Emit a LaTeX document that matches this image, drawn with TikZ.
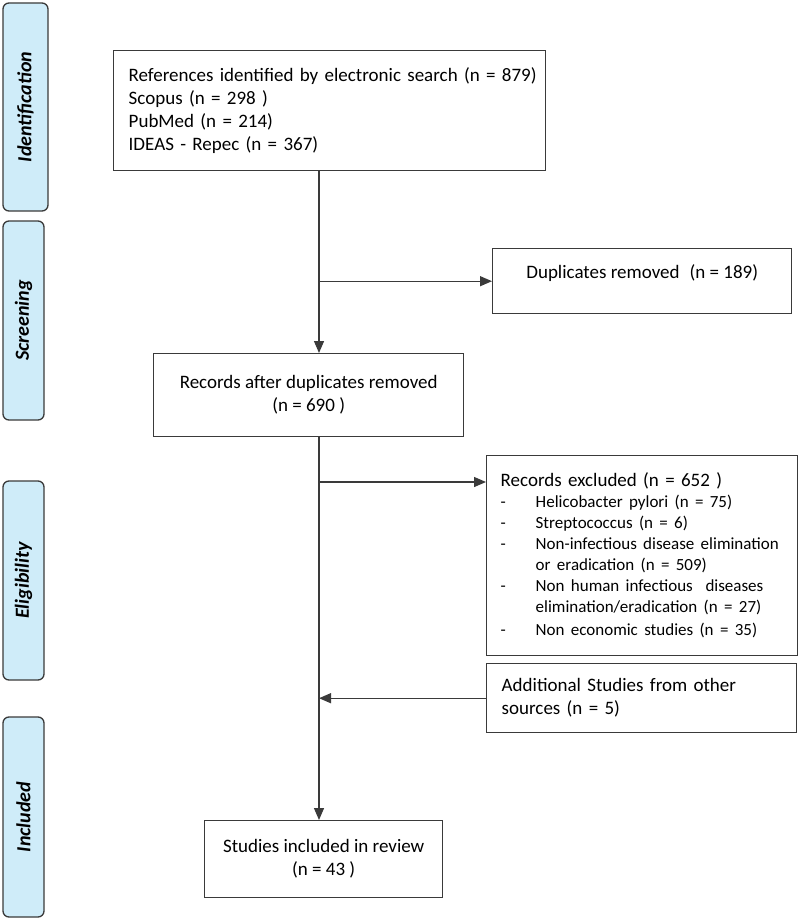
\documentclass[tikz,border=0pt]{standalone}
\usepackage{fontspec}
\setmainfont{Carlito}
\usetikzlibrary{arrows.meta,positioning,calc}

\definecolor{phasefill}{RGB}{207,236,249}
\definecolor{linegray}{RGB}{58,58,58}

\newcommand{\exclitem}[1]{\par\noindent\hangindent=35pt\hangafter=1\makebox[35pt][l]{-}#1}

\begin{document}
\begin{tikzpicture}[
    x=1pt, y=-1pt,
    box/.style={draw=linegray, line width=1.4pt, inner xsep=15pt, font=\fontsize{19}{23}\selectfont},
    phase/.style={draw=linegray, fill=phasefill, line width=1.3pt, rounded corners=6pt, rotate=90, minimum height=41pt, font=\fontsize{20}{24}\selectfont\bfseries\itshape},
    flow/.style={draw=linegray, line width=1.3pt, -{Triangle[length=12pt, width=10pt]}},
    link/.style={draw=linegray, line width=1.3pt}
]
    \useasboundingbox (0,0) rectangle (800,920);

    % Phases
    \node [phase, minimum width=208pt, minimum height=45pt] (ident) at (25.5,107) {Identification};
    \node [phase, minimum width=199pt] (screen) at (23.5,320.5) {Screening};
    \node [phase, minimum width=199pt] (elig) at (23.5,580.5) {Eligibility};
    \node [phase, minimum width=200pt] (incl) at (23.5,817) {Included};

    % Boxes
    \node [box, anchor=north west, minimum width=432pt, minimum height=120pt, text width=402pt, align=left] (search) at (113,50)
        {\mbox{References identified by electronic search (n = 879)}\\Scopus (n = 298 )\\PubMed (n = 214)\\IDEAS - Repec (n = 367)};
    \node [box, anchor=north west, minimum width=299pt, minimum height=65pt, text depth=20pt] (dup) at (492,248)
        {Duplicates removed\hspace{0.3em} (n = 189)};
    \node [box, anchor=north west, minimum width=310pt, minimum height=83pt, align=center] (dedup) at (153,353)
        {Records after duplicates removed\\(n = 690 )};
    \node [box, anchor=north west, minimum width=311pt, minimum height=200pt, inner xsep=14pt, text width=283pt, align=left] (excl) at (486,455)
        {Records excluded (n = 652 )\par\fontsize{17}{21}\selectfont
         \exclitem{Helicobacter pylori (n = 75)}
         \exclitem{Streptococcus (n = 6)}
         \exclitem{Non-infectious disease elimination\newline or eradication (n = 509)}
         \exclitem{Non human infectious\ \ diseases\newline elimination/eradication (n = 27)}
         \exclitem{Non economic studies (n = 35)}};
    \node [box, anchor=north west, minimum width=310pt, minimum height=69pt, text width=280pt, align=left] (extra) at (486,663)
        {Additional Studies from other\\sources (n = 5)};
    \node [box, anchor=north west, minimum width=238pt, minimum height=77pt, align=center] (review) at (204,820)
        {Studies included in review\\(n = 43 )};

    % Connectors
    \coordinate (spine) at (319,0);
    \coordinate (exclin) at ($(excl.north west)+(0,27)$);
    \draw [flow] (search.south -| spine) -- (dedup.north -| spine);
    \draw [flow] (dup.west -| spine) -- (dup.west);
    \draw [flow] (dedup.south -| spine) -- (review.north -| spine);
    \draw [flow] (exclin -| spine) -- (exclin);
    \draw [flow] (extra.west) -- (extra.west -| spine);

\end{tikzpicture}
\end{document}
